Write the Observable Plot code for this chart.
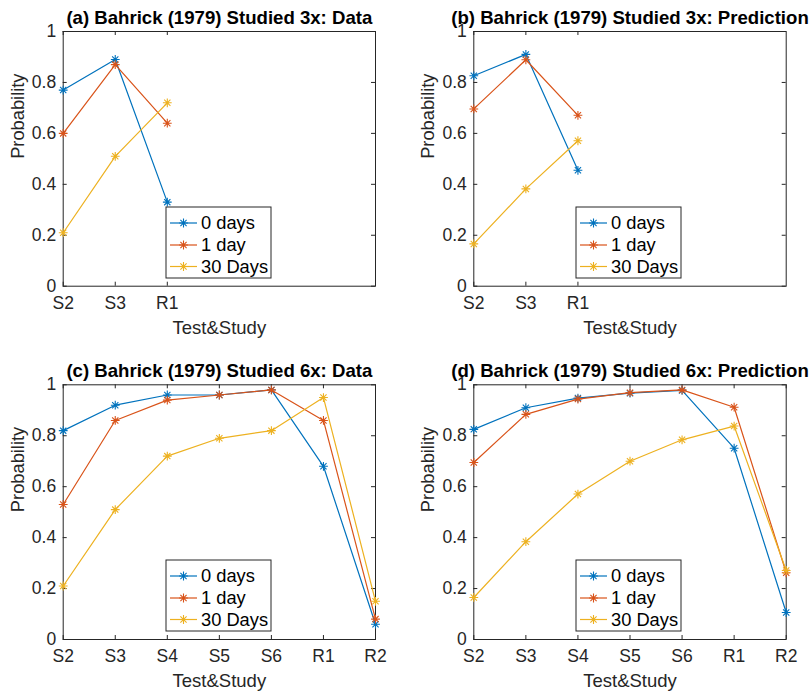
<!DOCTYPE html>
<html><head><meta charset="utf-8">
<script src="https://cdn.jsdelivr.net/npm/d3@7"></script>
<script src="https://cdn.jsdelivr.net/npm/@observablehq/plot@0.6"></script>
<style>
body{margin:0;background:#fff;}
#fig{position:relative;width:811px;height:694px;font-family:"Liberation Sans",Arial,sans-serif;background:#fff;overflow:hidden;}
#fig svg{position:absolute;}
</style></head><body><div id="fig"></div>
<script>
// ---- data ----
const seriesNames = ["0 days", "1 day", "30 Days"];
const seriesColors = ["#0072BD", "#D95319", "#EDB120"];
const ticksStudied3 = ["S2", "S3", "R1"];
const ticksStudied6 = ["S2", "S3", "S4", "S5", "S6", "R1", "R2"];
const yTickValues = [0, 0.2, 0.4, 0.6, 0.8, 1];
const titles = [
  "(a) Bahrick (1979) Studied 3x: Data",
  "(b) Bahrick (1979) Studied 3x: Prediction",
  "(c) Bahrick (1979) Studied 6x: Data",
  "(d) Bahrick (1979) Studied 6x: Prediction"
];
const xLabel = "Test&Study";
const yLabel = "Probability";
// (a) Studied 3x data
const a0 = [0.77, 0.89, 0.33];
const a1 = [0.60, 0.87, 0.64];
const a30 = [0.21, 0.51, 0.72];
// (b) Studied 3x prediction
const b0 = [0.826, 0.91, 0.455];
const b1 = [0.696, 0.889, 0.671];
const b30 = [0.166, 0.382, 0.571];
// (c) Studied 6x data
const c0 = [0.82, 0.92, 0.96, 0.96, 0.98, 0.68, 0.06];
const c1 = [0.53, 0.86, 0.94, 0.96, 0.98, 0.86, 0.08];
const c30 = [0.21, 0.51, 0.72, 0.79, 0.82, 0.95, 0.15];
// (d) Studied 6x prediction
const d0 = [0.825, 0.91, 0.948, 0.967, 0.978, 0.751, 0.106];
const d1 = [0.695, 0.884, 0.944, 0.969, 0.98, 0.912, 0.262];
const d30 = [0.165, 0.384, 0.571, 0.70, 0.784, 0.838, 0.271];

// ---- drawing ----
const fig = document.getElementById("fig");
const AXC = "#262626";
const asterisk = {
  draw(ctx, size) {
    const r = Math.sqrt(size / Math.PI), d = r * Math.SQRT1_2;
    ctx.moveTo(-r, 0); ctx.lineTo(r, 0);
    ctx.moveTo(0, -r); ctx.lineTo(0, r);
    ctx.moveTo(-d, -d); ctx.lineTo(d, d);
    ctx.moveTo(-d, d); ctx.lineTo(d, -d);
  }
};

function panel(cfg) {
  const {title, tickLabels, values, left, top, width, height, mL, mR, mT, mB} = cfg;
  const fw = width - mL - mR, fh = height - mT - mB;
  const xTicks = tickLabels.map((_, i) => i + 1);
  const marks = [
    Plot.frame({stroke: AXC, strokeWidth: 1}),
    Plot.tickY(yTickValues, {y: d => d, stroke: AXC, insetRight: fw - 4}),
    Plot.tickY(yTickValues, {y: d => d, stroke: AXC, insetLeft: fw - 4}),
    Plot.tickX(xTicks, {x: d => d, stroke: AXC, insetTop: fh - 4}),
    Plot.tickX(xTicks, {x: d => d, stroke: AXC, insetBottom: fh - 4}),
    Plot.axisY(yTickValues, {tickSize: 0, tickPadding: 7, tickFormat: d => String(d), fontSize: 17.5, fill: AXC, label: null}),
    Plot.axisX(xTicks, {tickSize: 0, tickPadding: 10, tickFormat: d => tickLabels[d - 1], fontSize: 17.5, fill: AXC, label: null}),
  ];
  values.forEach((vals, s) => {
    const rows = vals.map((v, i) => ({x: i + 1, y: v, series: seriesNames[s]}));
    marks.push(Plot.line(rows, {x: "x", y: "y", stroke: seriesColors[s], strokeWidth: 1.2}));
    marks.push(Plot.dot(rows, {x: "x", y: "y", stroke: seriesColors[s], fill: "none", symbol: asterisk, r: 4.4, strokeWidth: 1.1}));
  });
  marks.push(Plot.text([title], {text: d => d, frameAnchor: "top", dy: -7.7, lineAnchor: "bottom", fontWeight: "bold", fontSize: 18.6, fill: "#000"}));
  marks.push(Plot.text([xLabel], {text: d => d, frameAnchor: "bottom", dy: 34.3, lineAnchor: "top", fontSize: 18.5, fill: AXC}));
  marks.push(Plot.text([yLabel], {text: d => d, frameAnchor: "left", dx: -45.5, rotate: -90, lineAnchor: "middle", fontSize: 18.3, fill: AXC}));
  const svg = Plot.plot({
    width, height,
    marginLeft: mL, marginRight: mR, marginTop: mT, marginBottom: mB,
    x: {domain: [1, 7], axis: null},
    y: {domain: [0, 1], axis: null},
    style: {fontFamily: "Liberation Sans, Arial, sans-serif", color: AXC, background: "transparent", overflow: "visible"},
    marks
  });
  svg.style.left = left + "px";
  svg.style.top = top + "px";
  fig.appendChild(svg);

  // legend (inside the axes box)
  const lx = left + mL + 103, ly = top + mT + cfg.legTop, lw = 105, lh = 71;
  const lg = d3.create("svg").attr("width", lw + 2).attr("height", lh + 2)
    .style("left", (lx - 1) + "px").style("top", (ly - 1) + "px");
  lg.append("rect").attr("x", 1).attr("y", 1).attr("width", lw).attr("height", lh)
    .attr("fill", "#fff").attr("stroke", AXC).attr("stroke-width", 1);
  const rowY = [16, 38, 59.5];
  seriesNames.forEach((name, s) => {
    const y = rowY[s] + 1;
    lg.append("line").attr("x1", 5).attr("x2", 32).attr("y1", y).attr("y2", y)
      .attr("stroke", seriesColors[s]).attr("stroke-width", 1.2);
    lg.append("path").attr("transform", `translate(18.5,${y})`)
      .attr("d", d3.symbol(asterisk, Math.PI * 4.4 * 4.4)())
      .attr("stroke", seriesColors[s]).attr("fill", "none").attr("stroke-width", 1.1);
    lg.append("text").attr("x", 36).attr("y", y + 6.4).attr("font-size", 18.3)
      .attr("font-family", "Liberation Sans, Arial, sans-serif").attr("fill", "#000").text(name);
  });
  fig.appendChild(lg.node());
}

panel({title: titles[0], tickLabels: ticksStudied3, values: [a0, a1, a30], left: 0, top: 0, width: 405, height: 345, mL: 62.7, mR: 30, mT: 31, mB: 59.3, legTop: 176});
panel({title: titles[1], tickLabels: ticksStudied3, values: [b0, b1, b30], left: 405, top: 0, width: 406, height: 345, mL: 68.3, mR: 25.3, mT: 31, mB: 59.3, legTop: 176});
panel({title: titles[2], tickLabels: ticksStudied6, values: [c0, c1, c30], left: 0, top: 345, width: 405, height: 349, mL: 62.7, mR: 30, mT: 39.3, mB: 55, legTop: 175.7});
panel({title: titles[3], tickLabels: ticksStudied6, values: [d0, d1, d30], left: 405, top: 345, width: 406, height: 349, mL: 68.3, mR: 25.3, mT: 39.3, mB: 55, legTop: 175.7});
</script>
</body></html>
